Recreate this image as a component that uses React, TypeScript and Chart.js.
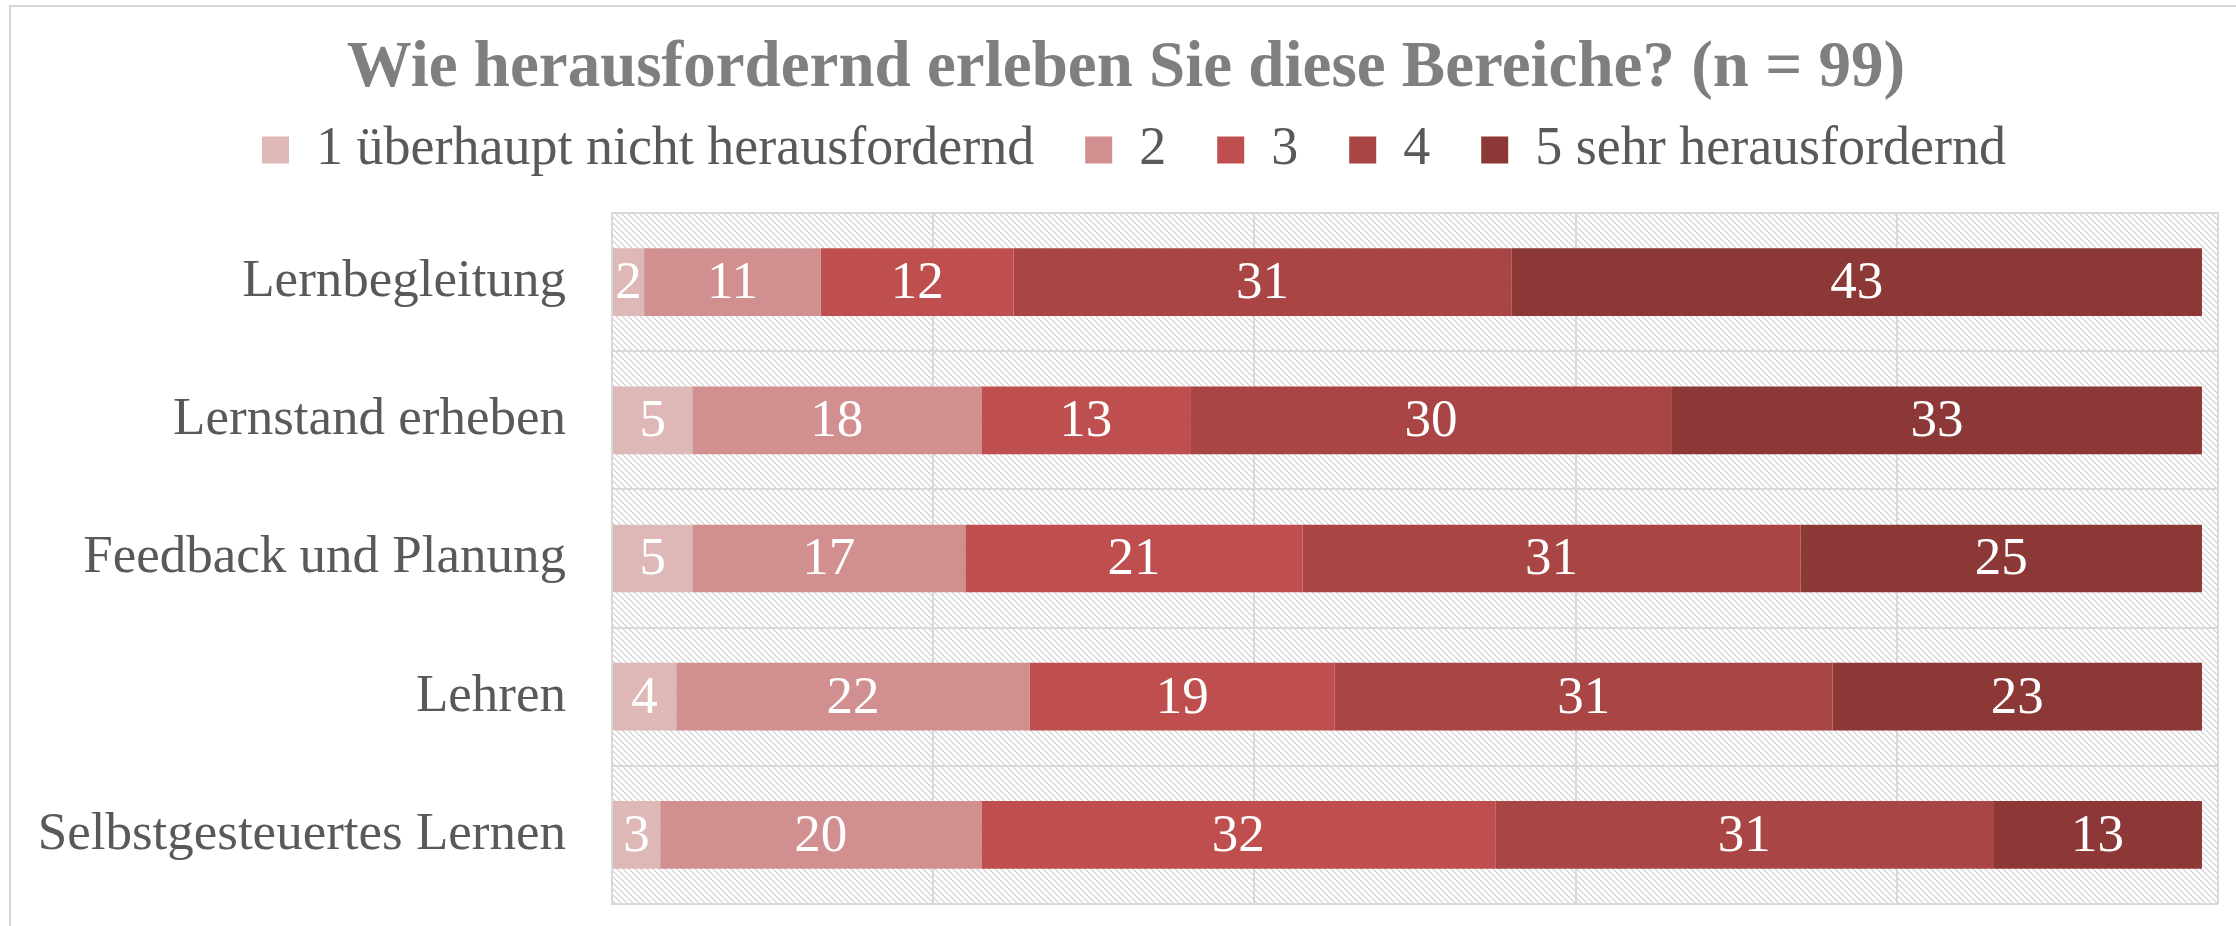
import React, { useEffect, useRef } from "react";
import { Chart, registerables } from "chart.js";

Chart.register(...registerables);

const titleText = "Wie herausfordernd erleben Sie diese Bereiche? (n = 99)";
const categories = [
  "Lernbegleitung",
  "Lernstand erheben",
  "Feedback und Planung",
  "Lehren",
  "Selbstgesteuertes Lernen",
];
const seriesLabels = [
  "1 überhaupt nicht herausfordernd",
  "2",
  "3",
  "4",
  "5 sehr herausfordernd",
];
const level1 = [2, 5, 5, 4, 3];
const level2 = [11, 18, 17, 22, 20];
const level3 = [12, 13, 21, 19, 32];
const level4 = [31, 30, 31, 31, 31];
const level5 = [43, 33, 25, 23, 13];
const seriesValues = [level1, level2, level3, level4, level5];
const seriesColors = ["#DEB7B7", "#D18F8F", "#BF4F4E", "#A94544", "#8C3836"];
const axisMax = 100;
const axisStep = 20;

const SERIF = "'Liberation Serif', 'Times New Roman', serif";
const GRID = "#D9D9D9";

function makeHatch(ctx: CanvasRenderingContext2D): CanvasPattern | string {
  const s = 6;
  const c = document.createElement("canvas");
  c.width = s;
  c.height = s;
  const g = c.getContext("2d");
  if (!g) return "#EEEEEE";
  g.fillStyle = "#FFFFFF";
  g.fillRect(0, 0, s, s);
  g.strokeStyle = "#CDCDCD";
  g.lineWidth = 1.1;
  g.beginPath();
  g.moveTo(-1, -1);
  g.lineTo(s + 1, s + 1);
  g.moveTo(-1, s - 1);
  g.lineTo(1, s + 1);
  g.moveTo(s - 1, -1);
  g.lineTo(s + 1, 1);
  g.stroke();
  return ctx.createPattern(c, "repeat") || "#EEEEEE";
}

const backgroundPlugin = {
  id: "bgHatch",
  beforeDraw(chart: any) {
    const { ctx, chartArea } = chart;
    ctx.save();
    ctx.fillStyle = "#FFFFFF";
    ctx.fillRect(0, 0, chart.width, chart.height);
    ctx.strokeStyle = "#D6D6D6";
    ctx.lineWidth = 2;
    ctx.beginPath();
    ctx.moveTo(10, chart.height);
    ctx.lineTo(10, 6);
    ctx.lineTo(chart.width, 6);
    ctx.stroke();
    ctx.fillStyle = makeHatch(ctx);
    ctx.fillRect(
      chartArea.left,
      chartArea.top,
      chartArea.right - chartArea.left,
      chartArea.bottom - chartArea.top
    );
    ctx.restore();
  },
};

const shiftPlugin = {
  id: "shiftBlocks",
  afterLayout(chart: any) {
    const t = chart.titleBlock;
    if (t) {
      t.left += 7;
      t.right += 7;
    }
    const l = chart.legend;
    if (l) {
      l.left += 15;
      l.right += 15;
    }
  },
};

const valueLabelPlugin = {
  id: "valueLabels",
  afterDatasetsDraw(chart: any) {
    const { ctx } = chart;
    ctx.save();
    ctx.fillStyle = "#FFFFFF";
    ctx.font = `53px ${SERIF}`;
    ctx.textAlign = "center";
    ctx.textBaseline = "middle";
    chart.data.datasets.forEach((ds: any, di: number) => {
      const meta = chart.getDatasetMeta(di);
      if (meta.hidden) return;
      meta.data.forEach((bar: any, i: number) => {
        const v = ds.data[i];
        if (!v) return;
        const cx = (bar.x + bar.base) / 2;
        ctx.fillText(String(v), cx, bar.y + 2);
      });
    });
    ctx.restore();
  },
};

export default function App() {
  const canvasRef = useRef<HTMLCanvasElement | null>(null);

  useEffect(() => {
    document.body.style.margin = "0";
    document.body.style.overflow = "hidden";
    const canvas = canvasRef.current;
    if (!canvas) return;
    const chart = new Chart(canvas, {
      type: "bar",
      data: {
        labels: categories,
        datasets: seriesValues.map((vals, i) => ({
          label: seriesLabels[i],
          data: vals,
          backgroundColor: seriesColors[i],
          borderWidth: 0,
          categoryPercentage: 1,
          barPercentage: 0.49,
        })),
      },
      options: {
        indexAxis: "y",
        animation: false,
        responsive: true,
        maintainAspectRatio: false,
        devicePixelRatio: 1,
        layout: { padding: { top: 26, bottom: 22, left: 20, right: 18 } },
        plugins: {
          title: {
            display: true,
            text: titleText,
            color: "#7F7F7F",
            font: { family: SERIF, size: 65, weight: "bold" },
            padding: { top: 4, bottom: -36 },
          },
          legend: {
            display: true,
            position: "top",
            labels: {
              boxWidth: 27,
              boxHeight: 27,
              padding: 51,
              color: "#595959",
              font: { family: SERIF, size: 54 },
            },
          },
          tooltip: { enabled: false },
        },
        scales: {
          x: {
            position: "top",
            stacked: true,
            min: 0,
            max: axisMax,
            ticks: { display: false, stepSize: axisStep },
            grid: { color: GRID, lineWidth: 2, drawTicks: false },
            border: { color: GRID, width: 2 },
            afterFit: (scale: any) => {
              scale.height = 26;
            },
          },
          y: {
            stacked: true,
            ticks: {
              color: "#595959",
              font: { family: SERIF, size: 53, lineHeight: 0.8 },
              padding: 0,
            },
            grid: {
              color: GRID,
              lineWidth: 2,
              drawTicks: true,
              tickLength: 46,
              tickColor: "rgba(0,0,0,0)",
              offset: true,
            },
            border: { color: GRID, width: 2 },
            afterFit: (scale: any) => {
              scale.width = 612 - 20;
            },
          },
        },
      },
      plugins: [backgroundPlugin, shiftPlugin, valueLabelPlugin],
    } as any);
    return () => chart.destroy();
  }, []);

  return (
    <div style={{ width: "2236px", height: "926px", position: "relative" }}>
      <canvas ref={canvasRef} />
    </div>
  );
}
